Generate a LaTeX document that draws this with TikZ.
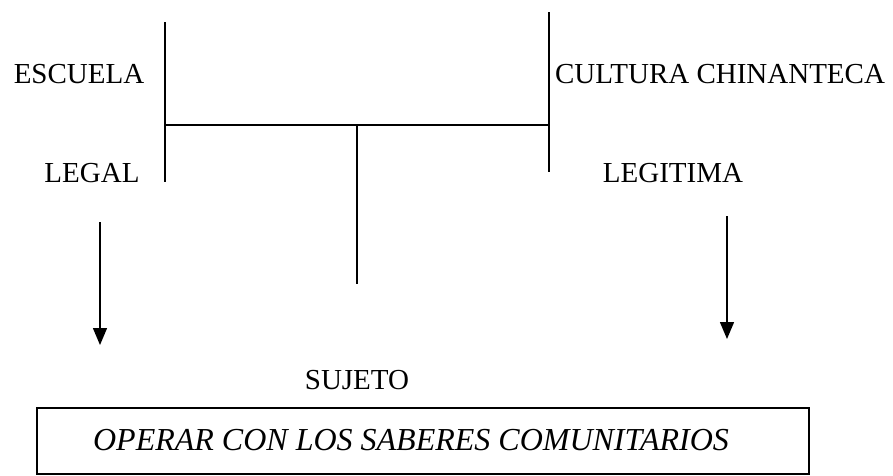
\documentclass[tikz,border=0pt]{standalone}
\usepackage{fontspec}
\setmainfont{Liberation Serif}
\usetikzlibrary{arrows.meta}
\begin{document}
\begin{tikzpicture}[x=1pt,y=-1pt,
  rule/.style={line width=1.4pt},
  lbl/.style={inner sep=0pt, font=\fontsize{29}{34}\selectfont},
  arr/.style={rule,-{Triangle[length=17pt,width=14pt]}},
  boxed/.style={draw, line width=1.4pt, minimum width=772pt, minimum height=66pt, inner sep=0pt}]
\useasboundingbox (0,0) rectangle (893,475);
% labels
\node[lbl] (escuela) at (79,74) {ESCUELA};
\node[lbl] (cultura) at (720,74) {CULTURA CHINANTECA};
\node[lbl] (legal) at (92,173) {LEGAL};
\node[lbl] (legitima) at (673,173) {LEGITIMA};
\node[lbl] (sujeto) at (357,380) {SUJETO};
\node[boxed] (box) at (423,441) {};
\node[lbl, font=\fontsize{32}{37}\selectfont\itshape] (operar) at (411,440) {OPERAR CON LOS SABERES COMUNITARIOS};
% structure coordinates
\coordinate (lt) at (165,22);
\coordinate (lb) at (165,182);
\coordinate (rt) at (549,12);
\coordinate (rb) at (549,172);
\coordinate (hl) at (165,125);
\coordinate (hr) at (549,125);
\coordinate (hm) at (357,125);
\coordinate (mb) at (357,284);
\coordinate (a1s) at (100,222);
\coordinate (a1e) at (100,345);
\coordinate (a2s) at (727,216);
\coordinate (a2e) at (727,339);
\draw[rule] (lt) -- (lb);
\draw[rule] (rt) -- (rb);
\draw[rule] (hl) -- (hr);
\draw[rule] (hm) -- (mb);
\draw[arr] (a1s) -- (a1e);
\draw[arr] (a2s) -- (a2e);
\end{tikzpicture}
\end{document}
